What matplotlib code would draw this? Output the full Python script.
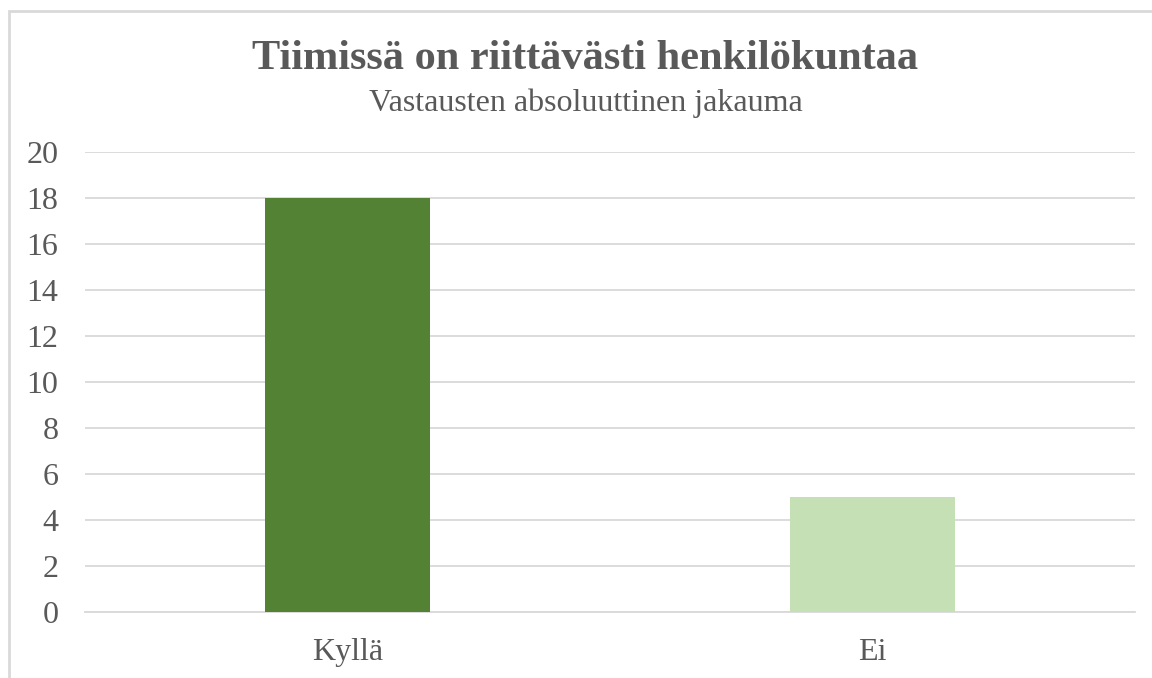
import matplotlib
matplotlib.use("Agg")
import matplotlib.pyplot as plt
from matplotlib.patches import Rectangle

# chart data
categories = ["Kyllä", "Ei"]
counts = [18, 5]
bar_colors = ["#548235", "#C5E0B4"]
y_ticks = list(range(0, 21, 2))

title = "Tiimissä on riittävästi henkilökuntaa"
subtitle = "Vastausten absoluuttinen jakauma"

plt.rcParams['font.family'] = ['Liberation Serif', 'DejaVu Serif']
text_color = "#595959"
grid_color = "#D9D9D9"

fig = plt.figure(figsize=(11.52, 6.78), dpi=100)
ax = fig.add_axes([85 / 1152, 1 - 612 / 678, 1050 / 1152, 460 / 678])

x = range(len(categories))
ax.bar(x, counts, width=0.314, color=bar_colors, zorder=3)

ax.set_xlim(-0.5, len(categories) - 0.5)
ax.set_ylim(0, 20)
ax.set_yticks(y_ticks)
ax.set_xticks(list(x))
ax.set_xticklabels(categories)
ax.yaxis.grid(True, color=grid_color, linewidth=1.3, zorder=0)
ax.tick_params(axis='both', length=0, labelsize=23, colors=text_color)
ax.tick_params(axis='y', pad=19)
ax.tick_params(axis='x', pad=19)
for side in ['top', 'right', 'left']:
    ax.spines[side].set_visible(False)
ax.spines['bottom'].set_color(grid_color)
ax.spines['bottom'].set_linewidth(1.3)

fig.text(585 / 1152, 1 - 59 / 678, title, ha='center', va='center', fontsize=30.5,
         fontweight='bold', color=text_color)
fig.text(586 / 1152, 1 - 103 / 678, subtitle, ha='center', va='center', fontsize=23,
         color=text_color)

# chart frame
fig.patches.append(Rectangle((9 / 1152, -0.05), 1.2, 1 - 11 / 678 + 0.05,
                             transform=fig.transFigure, fill=False,
                             edgecolor=grid_color, linewidth=2))

fig.savefig("out.png", dpi=100)
